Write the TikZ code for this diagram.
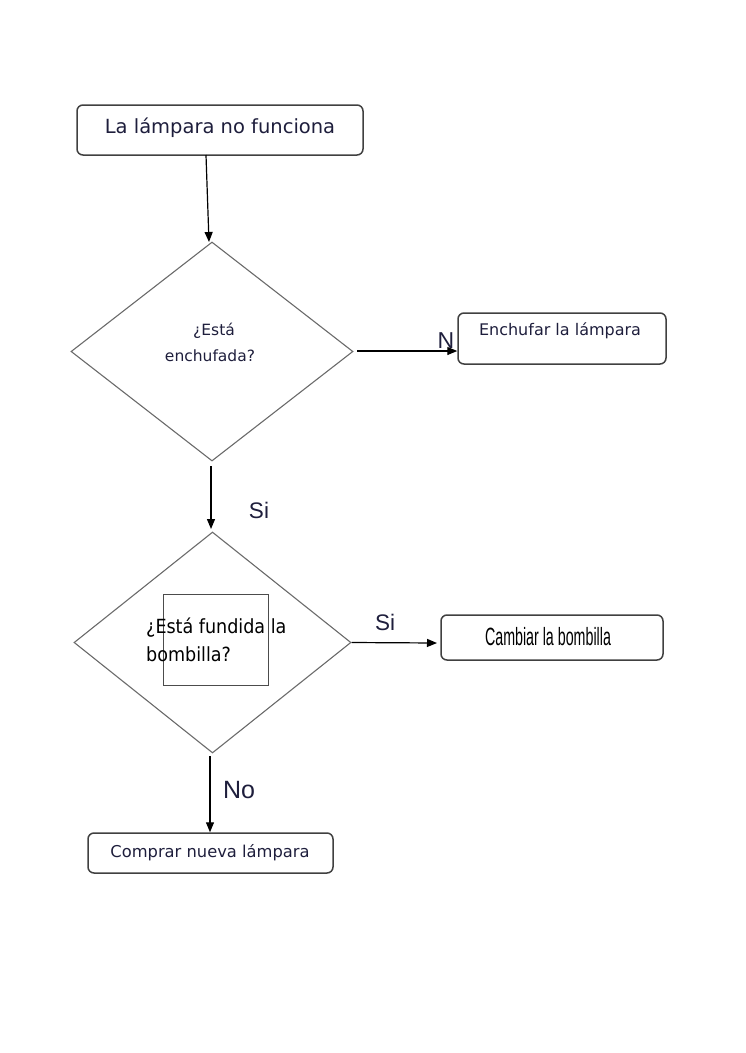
\documentclass[tikz,border=0pt]{standalone}
\usepackage{fontspec}
\setmainfont{DejaVu Sans}
\newfontfamily\arialf{Liberation Sans}
\newfontfamily\narrowf[FakeStretch=0.57]{Liberation Sans}
\newfontfamily\condf{DejaVu Sans Condensed}
\usetikzlibrary{shapes.geometric,arrows.meta}
\definecolor{boxline}{HTML}{404040}
\definecolor{dline}{HTML}{6A6A6A}
\definecolor{txt}{HTML}{1E1E3C}
\tikzset{
  x=1pt,y=-1pt,
  procbox/.style={draw=boxline,line width=1.5pt,rounded corners=6pt,inner sep=0pt},
  decbox/.style={draw=dline,line width=1.1pt,diamond,inner sep=0pt},
  conn/.style={draw=black,line width=1.2pt,-{Triangle[length=10pt,width=8pt]}},
  lbl/.style={font=\arialf\fontsize{22.5}{26}\selectfont,text=txt},
  boxtxt/.style={text=txt}
}
\begin{document}
\begin{tikzpicture}
\useasboundingbox (0,0) rectangle (745,1053);
% boxes
\node[procbox,minimum width=286pt,minimum height=50pt] (b1) at (220,130) {};
\node[boxtxt,font=\fontsize{19.5}{22}\selectfont] (t1) at (220,128) {La lámpara no funciona};
\node[decbox,minimum width=282pt,minimum height=219pt] (d1) at (212,351.5) {};
\node[boxtxt,font=\fontsize{15.5}{18}\selectfont] (t2a) at (214,331) {¿Está};
\node[boxtxt,font=\fontsize{15.5}{18}\selectfont] (t2b) at (210,356) {enchufada?};
\node[procbox,minimum width=208pt,minimum height=51pt] (b2) at (562,338.5) {};
\node[boxtxt,font=\fontsize{16}{18}\selectfont] (t3) at (560,331) {Enchufar la lámpara};
\node[decbox,minimum width=277pt,minimum height=221pt] (d2) at (212.5,642.5) {};
\node[draw=black!70,line width=0.6pt,minimum width=105pt,minimum height=91pt,inner sep=0pt] (r2) at (215.5,639.5) {};
\node[font=\condf\fontsize{19.5}{28}\selectfont,align=left,anchor=north west,inner sep=0pt] (t4) at (146,618) {¿Está fundida la\\bombilla?};
\node[procbox,minimum width=222pt,minimum height=45pt] (b3) at (552,637.5) {};
\node[font=\narrowf\fontsize{25}{28}\selectfont] (t5) at (548,637) {Cambiar la bombilla};
\node[procbox,minimum width=245pt,minimum height=40pt] (b4) at (210.5,853) {};
\node[boxtxt,font=\fontsize{16.3}{18}\selectfont] (t6) at (210,853) {Comprar nueva lámpara};
% connectors
\coordinate (c1) at (206,155);
\coordinate (c1b) at (209,242);
\draw[conn] (c1) -- (c1b);
\coordinate (c2) at (357,351);
\draw[conn] (c2) -- (b2.west |- c2);
\coordinate (c3) at (211,466);
\coordinate (c3b) at (211,529);
\draw[conn] (c3) -- (c3b);
\coordinate (c5) at (437,643);
\draw[conn] (d2.east) -- (c5);
\coordinate (c4) at (210,756);
\draw[conn] (c4) -- (b4.north -| c4);
% labels
\node[lbl,font=\arialf\fontsize{23}{26}\selectfont] (n1) at (446,341) {N};
\node[lbl] (s1) at (259,510) {Si};
\node[lbl] (s2) at (385,622) {Si};
\node[lbl,font=\arialf\fontsize{25}{28}\selectfont] (no1) at (239,790) {No};
\end{tikzpicture}
\end{document}
